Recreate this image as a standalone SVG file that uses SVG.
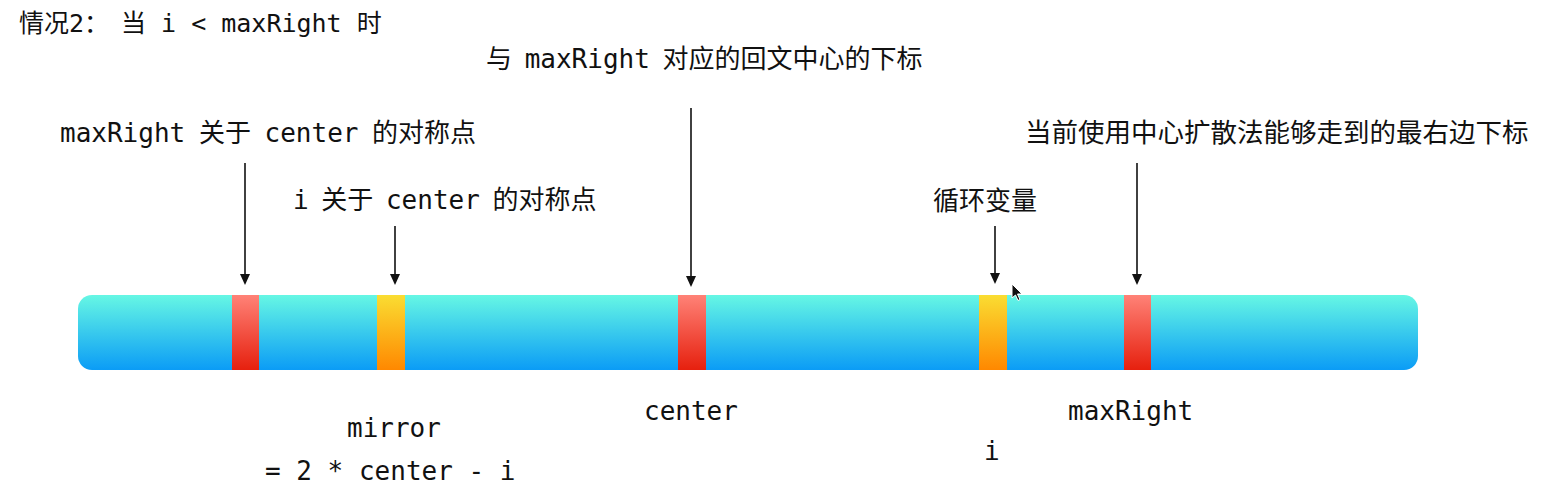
<svg xmlns="http://www.w3.org/2000/svg" width="1541" height="501" viewBox="0 0 1541 501">
<style>
.t{font-family:"DejaVu Sans Mono","Noto Sans CJK SC",monospace;font-size:26px;fill:#111}
.title{font-size:25px}
.ln{stroke:#111;stroke-width:1.6;fill:none}
</style>
<defs>
<linearGradient id="gBar" x1="0" y1="0" x2="0" y2="1"><stop offset="0" stop-color="#66F7E4"/><stop offset="1" stop-color="#0B9CF6"/></linearGradient>
<linearGradient id="gRed" x1="0" y1="0" x2="0" y2="1"><stop offset="0" stop-color="#FF8277"/><stop offset="1" stop-color="#E6200E"/></linearGradient>
<linearGradient id="gOr" x1="0" y1="0" x2="0" y2="1"><stop offset="0" stop-color="#FADD32"/><stop offset="1" stop-color="#FF8800"/></linearGradient>
</defs>
<rect width="1541" height="501" fill="#fff"/>
<g id="title">
<text class="t title" x="19" y="32">情况</text>
<text class="t title" x="69" y="32">2：</text>
<text class="t title" x="121" y="32">当 i &lt; maxRight 时</text>
</g>
<g id="bar">
<rect x="78" y="295" width="1340" height="75" rx="14" fill="url(#gBar)"/>
</g>
<g id="seg-mirrorMax"><rect x="232" y="295" width="27" height="75" fill="url(#gRed)"/></g>
<g id="seg-mirror"><rect x="377" y="295" width="28" height="75" fill="url(#gOr)"/></g>
<g id="seg-center"><rect x="678" y="295" width="28" height="75" fill="url(#gRed)"/></g>
<g id="seg-i"><rect x="979" y="295" width="28" height="75" fill="url(#gOr)"/></g>
<g id="seg-maxRight"><rect x="1124" y="295" width="27" height="75" fill="url(#gRed)"/></g>
<g id="labels-top">
<text class="t" x="486" y="68" style="word-spacing:-3px">与 maxRight 对应的回文中心的下标</text>
<text class="t" x="60" y="142" style="word-spacing:-2px">maxRight 关于 center 的对称点</text>
<text class="t" x="293" y="209" style="word-spacing:-3px">i 关于 center 的对称点</text>
<text class="t" x="933" y="210">循环变量</text>
<text class="t" x="1025" y="142" style="font-size:26.5px">当前使用中心扩散法能够走到的最右边下标</text>
</g>
<g id="labels-bottom">
<text class="t" x="347" y="437">mirror</text>
<text class="t" x="265" y="480">= 2 * center - i</text>
<text class="t" x="644" y="420">center</text>
<text class="t" x="1068" y="420">maxRight</text>
<text class="t" x="984" y="460">i</text>
</g>
<g id="connectors">
<path class="ln" d="M245,163 V275"/>
<path d="M240,274 L250,274 L245,285 Z" fill="#111"/>
<path class="ln" d="M395,226 V275"/>
<path d="M390,274 L400,274 L395,285 Z" fill="#111"/>
<path class="ln" d="M691,108 V277"/>
<path d="M686,276 L696,276 L691,287 Z" fill="#111"/>
<path class="ln" d="M995,226 V274"/>
<path d="M990,273 L1000,273 L995,284 Z" fill="#111"/>
<path class="ln" d="M1137,163 V275"/>
<path d="M1132,274 L1142,274 L1137,285 Z" fill="#111"/>
</g>
<g id="cursor">
<path d="M1012,284 L1012,298 L1015.5,295 L1018,300.5 L1020,299.5 L1017.5,294 L1022,294 Z" fill="#111" stroke="#fff" stroke-width="1"/>
</g>
</svg>
